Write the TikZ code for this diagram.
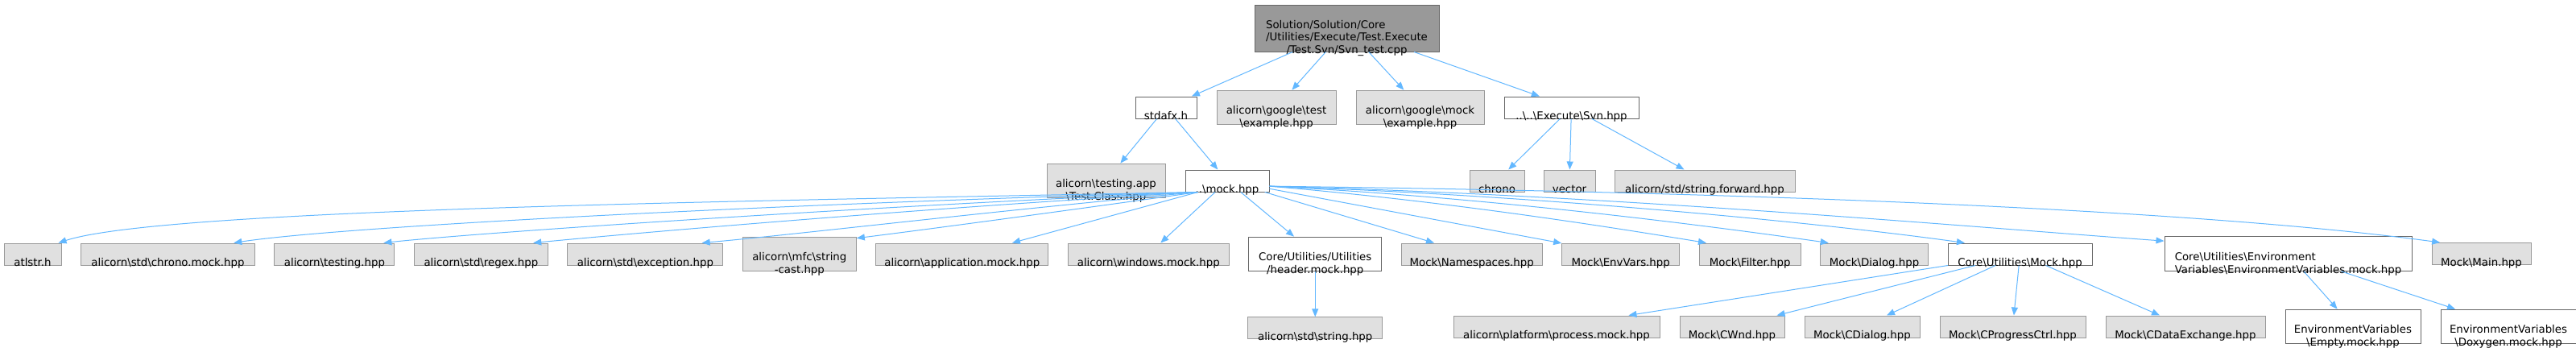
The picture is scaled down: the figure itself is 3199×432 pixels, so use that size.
\documentclass[tikz,border=0pt]{standalone}
\usepackage{fontspec}
\setmainfont{DejaVu Sans}
\usetikzlibrary{positioning,arrows.meta}
\definecolor{incblue}{HTML}{63B8FF}
\definecolor{extfill}{HTML}{E0E0E0}
\definecolor{extline}{HTML}{999999}
\definecolor{docline}{HTML}{666666}
\newcommand{\bsl}{\textbackslash}
% file name set low in its box, as the graph prints it
\newcommand{\flab}[2][11.6pt]{\makebox[0pt]{\raisebox{-#1}[0pt][0pt]{\begin{tabular}[b]{@{}c@{}}#2\end{tabular}}}}
\newcommand{\flabl}[3][18pt]{\makebox[0pt]{\raisebox{-#1}[0pt][0pt]{\begin{tabular}[b]{@{}l@{}}#2\\\multicolumn{1}{@{}c@{}}{#3}\end{tabular}}}}

\begin{document}
\begin{tikzpicture}[x=0.75pt,y=-0.75pt,font=\fontsize{10}{12}\selectfont,node distance=18pt,
  box/.style={rectangle,inner sep=0pt,line width=0.75pt,minimum height=20.25pt},
  tall/.style={minimum height=32pt},
  ext/.style={box,draw=extline,fill=extfill},
  doc/.style={box,draw=docline,fill=white},
  inc/.style={draw=incblue,line width=0.75pt,-{Triangle[length=7.5pt,width=6pt]}}]
  \fill[white] (0,0) rectangle (3199,432);
  \useasboundingbox (0,0) rectangle (3199,432);
  % top
  \node[box,draw=docline,fill=extline,minimum width=171.75pt,minimum height=43.5pt] (root) at (1672.5,35)
    {\makebox[0pt]{\raisebox{-24pt}[0pt][0pt]{\begin{tabular}[b]{@{}l@{}}Solution/Solution/Core\\/Utilities/Execute/Test.Execute\\\multicolumn{1}{@{}c@{}}{/Test.Svn/Svn\_test.cpp}\end{tabular}}}};
  % row 1
  \node[doc,minimum width=57pt] (stdafx) at (1448,133.5) {\flab{stdafx.h}};
  \node[ext,tall,minimum width=111pt,right=of stdafx] (gtest) {\flab[18pt]{alicorn\bsl google\bsl test\\\bsl example.hpp}};
  \node[ext,tall,minimum width=119.25pt,right=of gtest] (gmock) {\flab[18pt]{alicorn\bsl google\bsl mock\\\bsl example.hpp}};
  \node[doc,minimum width=125.25pt,right=of gmock] (svn) {\flab{..\bsl..\bsl Execute\bsl Svn.hpp}};
  % row 2
  \node[ext,tall,minimum width=110.25pt] (testclass) at (1373.5,224.5) {\flab[18pt]{alicorn\bsl testing.app\\\bsl Test.Class.hpp}};
  \node[doc,minimum width=78pt,right=of testclass] (mock) {\flab{..\bsl mock.hpp}};
  \node[ext,minimum width=51pt] (chrono) at (1859,224.5) {\flab{chrono}};
  \node[ext,minimum width=48pt,right=17.25pt of chrono] (vector) {\flab{vector}};
  \node[ext,minimum width=168pt,right=17.25pt of vector] (strfwd) {\flab{alicorn/std/string.forward.hpp}};
  % row 3
  \node[ext,minimum width=53.25pt] (atlstr) at (40.5,315.5) {\flab{atlstr.h}};
  \node[ext,minimum width=162pt,right=17.6pt of atlstr] (chronomock) {\flab{alicorn\bsl std\bsl chrono.mock.hpp}};
  \node[ext,minimum width=111.75pt,right=17.6pt of chronomock] (testing) {\flab{alicorn\bsl testing.hpp}};
  \node[ext,minimum width=124.5pt,right=17.6pt of testing] (regex) {\flab{alicorn\bsl std\bsl regex.hpp}};
  \node[ext,minimum width=144.75pt,right=17.6pt of regex] (exception) {\flab{alicorn\bsl std\bsl exception.hpp}};
  \node[ext,tall,minimum width=105.75pt,right=17.6pt of exception] (stringcast) {\flab[18pt]{alicorn\bsl mfc\bsl string\\-cast.hpp}};
  \node[ext,minimum width=160.5pt,right=17.6pt of stringcast] (appmock) {\flab{alicorn\bsl application.mock.hpp}};
  \node[ext,minimum width=150pt,right=17.6pt of appmock] (winmock) {\flab{alicorn\bsl windows.mock.hpp}};
  \node[doc,tall,minimum width=123.75pt,right=17.6pt of winmock] (header) {\flab[18pt]{Core/Utilities/Utilities\\/header.mock.hpp}};
  \node[ext,minimum width=131.25pt,right=17.6pt of header] (namespaces) {\flab{Mock\bsl Namespaces.hpp}};
  \node[ext,minimum width=109.5pt,right=17.6pt of namespaces] (envvars) {\flab{Mock\bsl EnvVars.hpp}};
  \node[ext,minimum width=94.5pt,right=17.6pt of envvars] (filter) {\flab{Mock\bsl Filter.hpp}};
  \node[ext,minimum width=100.5pt,right=17.6pt of filter] (dialog) {\flab{Mock\bsl Dialog.hpp}};
  \node[doc,minimum width=134.25pt,right=17.6pt of dialog] (coremock) {\flab{Core\bsl Utilities\bsl Mock.hpp}};
  \node[doc,tall,minimum width=230.25pt] (envmock) at (2841.5,315) {\flabl{Core\bsl Utilities\bsl Environment}{Variables\bsl EnvironmentVariables.mock.hpp}};
  \node[ext,minimum width=92.25pt,right=of envmock] (main) {\flab{Mock\bsl Main.hpp}};
  % row 4
  \node[ext,minimum width=125.25pt,below=42pt of header] (string) {\flab{alicorn\bsl std\bsl string.hpp}};
  \node[ext,minimum width=192pt] (process) at (1933,405.5) {\flab{alicorn\bsl platform\bsl process.mock.hpp}};
  \node[ext,minimum width=97.5pt,right=of process] (cwnd) {\flab{Mock\bsl CWnd.hpp}};
  \node[ext,minimum width=107.25pt,right=of cwnd] (cdialog) {\flab{Mock\bsl CDialog.hpp}};
  \node[ext,minimum width=135.75pt,right=of cdialog] (cprogress) {\flab{Mock\bsl CProgressCtrl.hpp}};
  \node[ext,minimum width=148.5pt,right=of cprogress] (cdataex) {\flab{Mock\bsl CDataExchange.hpp}};
  \node[doc,tall,minimum width=126pt,right=of cdataex] (empty) {\flab[18pt]{EnvironmentVariables\\\bsl Empty.mock.hpp}};
  \node[doc,tall,minimum width=126pt,right=of empty] (doxygen) {\flab[18pt]{EnvironmentVariables\\\bsl Doxygen.mock.hpp}};
  % includes
  \draw[inc] (root) -- (stdafx);
  \draw[inc] (root) -- (gtest);
  \draw[inc] (root) -- (gmock);
  \draw[inc] (root) -- (svn);
  \draw[inc] (stdafx) -- (testclass);
  \draw[inc] (stdafx) -- (mock);
  \draw[inc] (svn) -- (chrono);
  \draw[inc] (svn) -- (vector);
  \draw[inc] (svn) -- (strfwd);
  \draw[inc] ([xshift=12pt]mock.south west) .. controls (900,250) and (200,260) .. ([xshift=-3pt]atlstr.north east);
  \draw[inc] ([xshift=12pt]mock.south west) .. controls (1000,252) and (430,280) .. ([xshift=-20pt]chronomock.north east);
  \draw[inc] ([xshift=12pt]mock.south west) .. controls (1100,255) and (600,288) .. ([xshift=-10.5pt]testing.north east);
  \draw[inc] ([xshift=12pt]mock.south west) .. controls (1150,258) and (780,290) .. ([xshift=-14pt]regex.north east);
  \draw[inc] ([xshift=12pt]mock.south west) .. controls (1250,260) and (980,292) .. ([xshift=-20pt]exception.north east);
  \draw[inc] ([xshift=12pt]mock.south west) .. controls (1350,258) and (1150,285) .. ([yshift=-1.5pt]stringcast.north east);
  \draw[inc] ([xshift=12pt]mock.south west) -- ([xshift=-34pt]appmock.north east);
  \draw[inc] (mock) -- (winmock);
  \draw[inc] (mock) -- (header);
  \draw[inc] (mock) -- (namespaces);
  \draw[inc] (mock) -- (envvars);
  \draw[inc] ([yshift=-5pt]mock.east) .. controls (1800,250) and (2000,282) .. ([xshift=7pt]filter.north west);
  \draw[inc] ([yshift=-5pt]mock.east) .. controls (1850,245) and (2120,280) .. ([xshift=8pt]dialog.north west);
  \draw[inc] ([yshift=-5pt]mock.east) .. controls (1900,242) and (2250,275) .. ([xshift=16pt]coremock.north west);
  \draw[inc] ([yshift=-5pt]mock.east) .. controls (2000,242) and (2450,282) .. ([yshift=-4.5pt]envmock.north west);
  \draw[inc] ([yshift=-5pt]mock.east) .. controls (2300,240) and (2780,267) .. ([xshift=8pt]main.north west);
  \draw[inc] (header) -- (string);
  \draw[inc] (coremock) -- (process);
  \draw[inc] (coremock) -- (cwnd);
  \draw[inc] (coremock) -- (cdialog);
  \draw[inc] (coremock) -- (cprogress);
  \draw[inc] (coremock) -- (cdataex);
  \draw[inc] (envmock) -- (empty);
  \draw[inc] (envmock) -- (doxygen);
\end{tikzpicture}
\end{document}
